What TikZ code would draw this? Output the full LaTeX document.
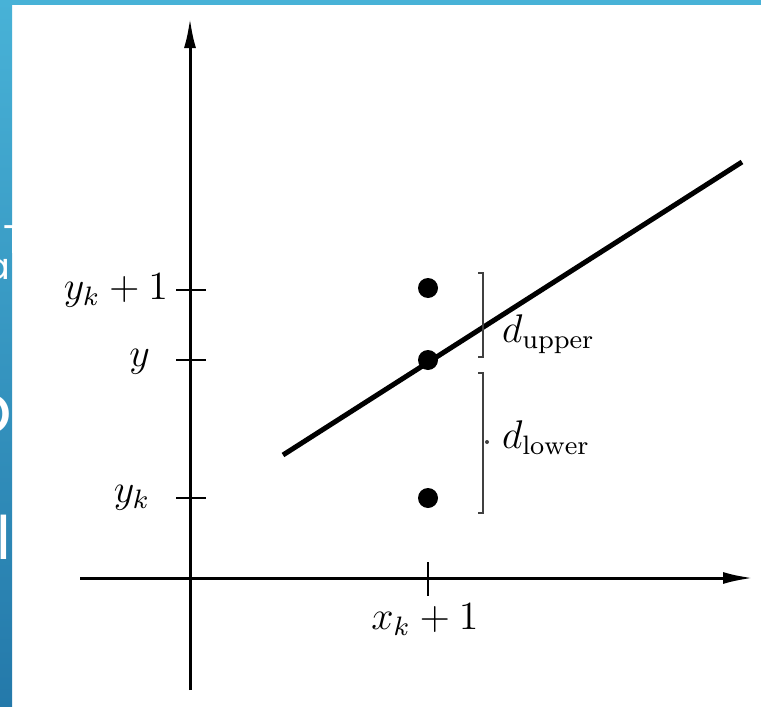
\documentclass[tikz,border=0pt]{standalone}
\usepackage{fontspec}
\newfontfamily\slidefont{Poppins}
\usetikzlibrary{arrows.meta}
\definecolor{slideblue}{HTML}{48B2D7}
\definecolor{slidebluedark}{HTML}{2479AA}
\tikzset{
  axis/.style={line width=0.9pt, -{Latex[length=9pt,width=3.6pt]}},
  tickmark/.style={line width=0.8pt},
  dist/.style={line width=0.6pt, black!75},
  pt/.style={circle, fill=black, inner sep=0pt, minimum size=6pt},
  lbl/.style={inner sep=1pt, font=\large},
  frag/.style={white, inner sep=0pt}
}
\begin{document}
\begin{tikzpicture}[x=0.3pt, y=-0.3pt]
\useasboundingbox (0,0) rectangle (761,707);
\fill[white] (0,0) rectangle (761,707);

% slide edge
\shade[top color=slideblue, bottom color=slidebluedark] (0,0) rectangle (12,707);
\fill[slideblue] (0,0) rectangle (761,5);
\begin{scope}
\clip (0,5) rectangle (12,707);
\node[frag, anchor=north west, font=\slidefont\fontsize{12}{12}\selectfont] (fragT) at (3,225) {T};
\node[frag, anchor=south east, font=\slidefont\fontsize{11}{11}\selectfont] (fragA) at (11,280) {a};
\node[frag, anchor=south east, font=\slidefont\fontsize{21}{21}\selectfont] (fragO) at (13,435) {o};
\node[frag, anchor=south, font=\slidefont\fontsize{18}{18}\selectfont] (fragL) at (4,560) {l};
\end{scope}

\coordinate (ytop) at (190,18);
\coordinate (ybot) at (190,690);
\coordinate (xleft) at (80,578);
\coordinate (xright) at (753,578);
\draw[axis] (ybot) -- (ytop);
\draw[axis] (xleft) -- (xright);

\draw[tickmark] (176,290) -- (206,290);
\draw[tickmark] (176,360) -- (206,360);
\draw[tickmark] (176,498) -- (206,498);
\draw[tickmark] (428,562) -- (428,596);

\node[lbl, anchor=east] (lblYkOne) at (172,290) {$y_k + 1$};
\node[lbl, anchor=east] (lblY) at (154,362) {$y$};
\node[lbl, anchor=east] (lblYk) at (154,498) {$y_k$};
\node[lbl, anchor=north] (lblXk) at (425,600) {$x_k + 1$};

\node[pt] (ptUp) at (428,288) {};
\node[pt] (ptMid) at (428,360) {};
\node[pt] (ptLow) at (428,498) {};

\coordinate (lineA) at (283,455);
\coordinate (lineB) at (742,162);
\draw[line width=1.5pt] (lineA) -- (lineB);

\draw[dist] (478,273) -- (483,273) -- (483,357) -- (478,357);
\draw[dist] (478,373) -- (483,373) -- (483,513) -- (478,513);
\fill[black!75] (487,442) circle (0.6pt);

\node[lbl, anchor=base west] (lblUpper) at (498,342) {$d_{\mathrm{upper}}$};
\node[lbl, anchor=base west] (lblLower) at (498,448) {$d_{\mathrm{lower}}$};

\end{tikzpicture}
\end{document}
